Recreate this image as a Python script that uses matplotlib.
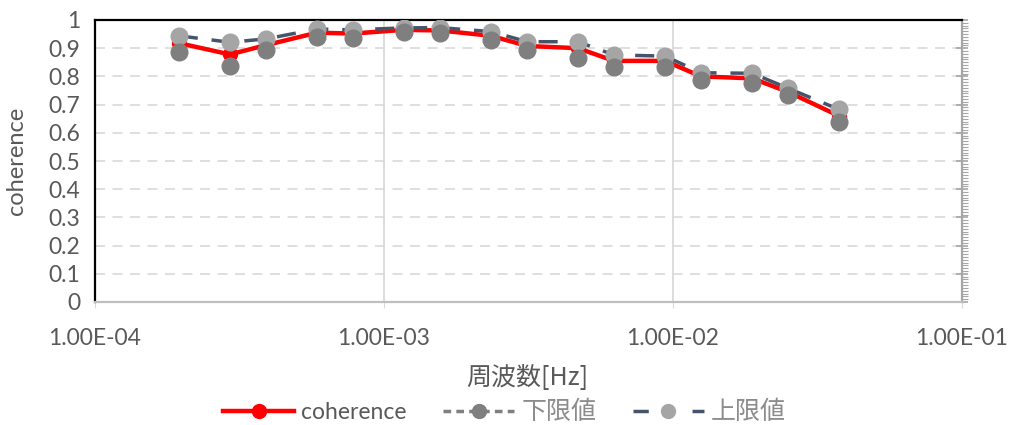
import matplotlib
matplotlib.use('Agg')
from matplotlib import pyplot as plt
from matplotlib.lines import Line2D
from matplotlib.ticker import MultipleLocator, FixedLocator, NullLocator

# frequency [Hz] and coherence with lower / upper limits
freq = [1.95e-4, 2.93e-4, 3.91e-4, 5.86e-4, 7.81e-4, 1.17e-3, 1.56e-3, 2.34e-3,
        3.13e-3, 4.69e-3, 6.25e-3, 9.38e-3, 1.25e-2, 1.88e-2, 2.50e-2, 3.75e-2]
coherence = [0.918, 0.878, 0.911, 0.955, 0.952, 0.965, 0.963, 0.944,
             0.908, 0.900, 0.855, 0.855, 0.800, 0.793, 0.745, 0.660]
lower = [0.888, 0.838, 0.894, 0.941, 0.937, 0.958, 0.953, 0.929,
         0.894, 0.866, 0.832, 0.832, 0.787, 0.775, 0.734, 0.639]
upper = [0.944, 0.921, 0.933, 0.968, 0.965, 0.972, 0.973, 0.959,
         0.923, 0.923, 0.876, 0.872, 0.813, 0.811, 0.758, 0.683]

x_ticks = [1e-4, 1e-3, 1e-2, 1e-1]
x_ticklabels = ['1.00E-04', '1.00E-03', '1.00E-02', '1.00E-01']
names = ['coherence', '下限値', '上限値']

plt.rcParams['font.family'] = ['Lato', 'Noto Sans CJK JP', 'DejaVu Sans']
txt = '#595959'

fig = plt.figure(figsize=(10.09, 4.25), dpi=100)
ax = fig.add_axes([95/1009, 123/425, 867/1009, 282/425])

# series
ax.plot(freq, coherence, color='#FF0000', lw=3.2, marker='o', ms=10,
        mfc='#FF0000', mec='#FF0000', zorder=3)
ax.plot(freq, upper, color='#44546A', lw=2.5, dashes=(5.5, 4), marker='o', ms=12,
        mfc='#A5A5A5', mec='#A5A5A5', zorder=4)
ax.plot(freq, lower, ls='none', marker='o', ms=12,
        mfc='#7F7F7F', mec='#7F7F7F', zorder=5)

ax.set_xscale('log')
ax.set_xlim(1e-4, 1e-1)
ax.set_ylim(0, 1)
ax.xaxis.set_major_locator(FixedLocator(x_ticks))
ax.xaxis.set_minor_locator(NullLocator())
ax.set_xticklabels(x_ticklabels)
ax.yaxis.set_major_locator(MultipleLocator(0.1))
ax.yaxis.set_minor_locator(MultipleLocator(0.01))
ax.yaxis.set_major_formatter(plt.FuncFormatter(lambda v, p: f'{v:g}'))

# grid
ax.yaxis.grid(True, color='#D9D9D9', lw=1.2, dashes=(6, 4.5))
ax.xaxis.grid(True, color='#D9D9D9', lw=1.3)
ax.set_axisbelow(True)

# spines like the excel chart
for s in ['left', 'top']:
    ax.spines[s].set_color('black')
    ax.spines[s].set_linewidth(1.6)
ax.spines['bottom'].set_color('#BFBFBF')
ax.spines['bottom'].set_linewidth(1.6)
ax.spines['right'].set_color('#A6A6A6')
ax.spines['right'].set_linewidth(1.6)

ax.tick_params(axis='y', which='both', left=False, right=True, labelsize=16.5,
               labelcolor=txt, color='#A6A6A6', pad=6)
ax.tick_params(axis='y', which='major', direction='inout', length=9, width=1.2)
ax.tick_params(axis='y', which='minor', direction='out', length=4, width=0.8)
ax.tick_params(axis='x', which='major', direction='out', length=4, color='#D9D9D9',
               labelsize=16.5, labelcolor=txt, pad=15)

ax.set_ylabel('coherence', fontsize=17, color=txt)
ax.yaxis.set_label_coords(-0.078, 0.5)
ax.set_xlabel('周波数[Hz]', fontsize=18, color=txt, family=['Noto Sans CJK JP'])
ax.xaxis.set_label_coords(0.498, -0.222)

# legend (lower limit line only shown in legend)
handles = [
    Line2D([], [], color='#FF0000', lw=3.2, marker='o', ms=10, mfc='#FF0000', mec='#FF0000'),
    Line2D([], [], color='#7F7F7F', lw=2.5, dashes=(2.2, 1.5), marker='o', ms=10,
           mfc='#7F7F7F', mec='#7F7F7F'),
    Line2D([], [], color='#44546A', lw=2.5, dashes=(4.4, 12.6), marker='o', ms=10,
           mfc='#A5A5A5', mec='#A5A5A5'),
]
leg = fig.legend(handles, names, loc='center', bbox_to_anchor=(0.5, 0.032), ncol=3,
                 frameon=False, fontsize=16.5, handlelength=3.1, handletextpad=0.3,
                 columnspacing=1.6)
for t in leg.get_texts():
    t.set_color(txt)
for t in leg.get_texts()[1:]:
    t.set_color('#8C8C8C')
    t.set_fontsize(18)

plt.savefig('out.png', dpi=100)
